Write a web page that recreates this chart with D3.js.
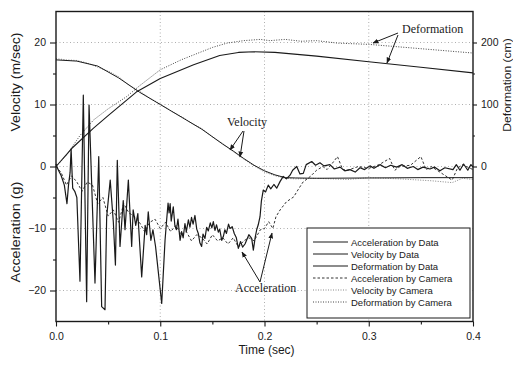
<!DOCTYPE html>
<html><head><meta charset="utf-8">
<script src="https://cdn.jsdelivr.net/npm/d3@7"></script>
<style>body{margin:0;background:#fff}svg{display:block}</style>
</head><body><svg id="c" width="513" height="365"></svg>
<script>
// ---- data (time in sec) ----
const xTicks = [0, 0.1, 0.2, 0.3, 0.4];
const xTickLabels = ["0.0", "0.1", "0.2", "0.3", "0.4"];
const xMinorTicks = [0.05, 0.15, 0.25, 0.35];
const yLeftTicks = [20, 10, 0, -10, -20];
const yLeftMinor = [15, 5, -5, -15];
const yRightTicks = [200, 100, 0];
const yRightMinor = [150, 50];
const gridX = [0.1, 0.2, 0.3];

const seriesNames = ["Acceleration by Data", "Velocity by Data", "Deformation by Data",
  "Acceleration by Camera", "Velocity by Camera", "Deformation by Camera"];

// acceleration (g) measured by data
const accelData = [[0,0.4],[0.002,-0.5],[0.005,-1.5],[0.008,-3],[0.0105,-6],[0.012,-3],[0.0135,-1],[0.0145,2.8],[0.016,-3.5],[0.018,-4],[0.02,-5],[0.023,-18.5],[0.0262,11.5],[0.0294,-21.8],[0.0317,9.9],[0.0374,-18.8],[0.041,1.6],[0.0438,-22.6],[0.047,-23.1],[0.0486,-8.1],[0.052,-2.2],[0.055,-9],[0.057,-15.9],[0.0588,1.0],[0.0614,-12.9],[0.0645,-5.5],[0.0662,-10.2],[0.0694,-2.2],[0.0726,-12.9],[0.074,-7],[0.0765,-9.5],[0.0785,-7.6],[0.0822,-17.8],[0.0855,-9.5],[0.087,-11],[0.0885,-7.3],[0.091,-11.9],[0.093,-10.2],[0.0955,-12.9],[0.1014,-22.1],[0.1046,-11.9],[0.1062,-8.5],[0.1075,-5.9],[0.1085,-7.5],[0.1095,-6.0],[0.1105,-8.8],[0.1125,-6.5],[0.114,-9.5],[0.1155,-10.2],[0.117,-8.5],[0.119,-11.9],[0.1205,-10.5],[0.122,-11.5],[0.1237,-9.2],[0.125,-10.5],[0.127,-8.6],[0.1285,-9.8],[0.13,-8.2],[0.1315,-9.3],[0.1333,-7.9],[0.135,-10.1],[0.1365,-10.8],[0.138,-12.3],[0.1397,-12.9],[0.141,-10.9],[0.1429,-11.6],[0.1445,-9.8],[0.1461,-10.4],[0.148,-9.1],[0.1495,-9.9],[0.1509,-8.9],[0.1525,-10.3],[0.154,-9.4],[0.1557,-10.6],[0.157,-10.1],[0.159,-11.9],[0.1605,-11.3],[0.162,-10.2],[0.1635,-10.8],[0.1655,-9.3],[0.1669,-10.0],[0.169,-9.7],[0.171,-10.8],[0.173,-11.5],[0.1749,-13.2],[0.177,-12.1],[0.179,-13.0],[0.1813,-12.5],[0.183,-11.8],[0.185,-11.0],[0.1877,-11.6],[0.1893,-13.5],[0.191,-11.5],[0.1925,-10.2],[0.194,-9.4],[0.1957,-8.1],[0.197,-5.6],[0.1988,-3.8],[0.201,-4.1],[0.2036,-3.0],[0.206,-3.6],[0.209,-2.9],[0.2117,-3.5],[0.215,-2.4],[0.218,-1.6],[0.221,-2.0],[0.2245,-1.4],[0.227,-0.6],[0.2309,0],[0.234,-1.2],[0.2372,-1.1],[0.24,0.3],[0.2453,0.8],[0.249,0.2],[0.2532,0.6],[0.257,0.1],[0.2628,0.3],[0.267,-0.4],[0.2724,-0.1],[0.277,-0.7],[0.282,-0.5],[0.287,-0.9],[0.2916,-0.2],[0.296,-0.5],[0.3012,0.1],[0.305,-0.3],[0.3108,0.3],[0.316,-0.2],[0.321,0.2],[0.3268,-0.1],[0.332,0.3],[0.337,-0.3],[0.3427,0],[0.347,-0.5],[0.352,-0.1],[0.3587,-0.4],[0.363,-0.1],[0.3683,-0.7],[0.373,-0.2],[0.3808,-0.5],[0.384,0.3],[0.3875,-0.6],[0.391,0.4],[0.395,-0.6],[0.398,0.3],[0.4,-0.1]];

// acceleration (g) measured by camera
const accelCamera = [[0,0],[0.005,-1],[0.01,-3],[0.015,-1.5],[0.02,-2.5],[0.025,-4],[0.03,-2.5],[0.035,-3],[0.04,-6],[0.045,-5],[0.05,-8],[0.055,-7],[0.06,-9],[0.065,-6],[0.07,-7.5],[0.075,-8],[0.08,-9],[0.085,-10.5],[0.09,-9],[0.095,-8.5],[0.1,-10],[0.105,-9],[0.11,-10.5],[0.115,-9.5],[0.12,-11],[0.125,-10.5],[0.13,-12],[0.135,-11],[0.14,-11.5],[0.145,-12.5],[0.15,-11],[0.155,-12],[0.16,-11.5],[0.165,-12.5],[0.17,-11.5],[0.175,-13],[0.18,-12],[0.185,-11.5],[0.19,-12],[0.196,-10.2],[0.2,-10],[0.204,-8.9],[0.208,-10],[0.211,-8.1],[0.215,-7],[0.221,-5.7],[0.228,-4.9],[0.232,-3.8],[0.237,-2.5],[0.244,-1.6],[0.25,-0.6],[0.256,0],[0.26,-0.5],[0.265,0.5],[0.27,1.6],[0.275,-0.5],[0.28,-0.6],[0.29,0],[0.3,-0.3],[0.31,0.3],[0.32,1.3],[0.325,-0.6],[0.33,0],[0.34,0.2],[0.35,1.6],[0.355,-0.5],[0.36,0],[0.37,-1.1],[0.38,-2.2],[0.385,-0.3],[0.39,0.3],[0.4,-0.5]];

// velocity (m/sec)
const velData = [[0,17.2],[0.02,17.0],[0.04,16.2],[0.06,14.3],[0.08,12.0],[0.1,10.0],[0.12,8.0],[0.14,6.0],[0.16,3.6],[0.17,2.5],[0.18,1.3],[0.19,0.2],[0.2,-0.7],[0.21,-1.35],[0.22,-1.8],[0.23,-1.85],[0.25,-1.9],[0.3,-1.85],[0.35,-1.8],[0.4,-1.8]];
const velCamera = [[0,17.4],[0.01,17.2],[0.02,17.1],[0.03,16.7],[0.04,16.0],[0.05,15.4],[0.06,14.5],[0.07,13.1],[0.08,12.2],[0.09,11.0],[0.1,10.1],[0.11,9.0],[0.12,8.1],[0.13,7.0],[0.14,6.1],[0.15,4.8],[0.16,3.7],[0.17,2.4],[0.18,1.2],[0.19,0.1],[0.2,-0.9],[0.21,-1.5],[0.22,-1.9],[0.23,-2.0],[0.25,-1.9],[0.28,-2.1],[0.3,-1.8],[0.33,-2.0],[0.36,-2.3],[0.38,-2.6],[0.39,-1.9],[0.4,-2.1]];

// deformation (cm)
const defData = [[0,0],[0.015,29],[0.036,62],[0.05,82],[0.077,120],[0.1,142],[0.132,164],[0.157,179],[0.175,184],[0.19,185],[0.21,184],[0.25,178],[0.3,169],[0.35,160],[0.4,151]];
const defCamera = [[0,0],[0.01,18],[0.023,50],[0.036,75],[0.05,93],[0.068,113],[0.08,130],[0.1,156],[0.12,172],[0.132,180],[0.15,192],[0.164,199],[0.18,203],[0.196,205],[0.205,203],[0.22,205],[0.235,202],[0.25,203],[0.27,199],[0.3,197],[0.35,190],[0.4,183]];

// ---- layout ----
const svg = d3.select("#c");
const L = 56, R = 473, T = 11.5, B = 321.5;
const x = d3.scaleLinear().domain([0, 0.4]).range([L, R]);
const yL = d3.scaleLinear().domain([-25, 25]).range([B, T]);
const yR = d3.scaleLinear().domain([-250, 250]).range([B, T]);
const ink = "#1a1a1a";
const font = "'Liberation Sans', Arial, sans-serif";
const serif = "'Liberation Serif', 'Times New Roman', serif";

// grid
const grid = svg.append("g").attr("stroke", "#9a9a9a").attr("stroke-width", 0.8).attr("stroke-dasharray", "1,2.5");
grid.selectAll("line.h").data(yLeftTicks).join("line").attr("class","h")
  .attr("x1", L).attr("x2", R).attr("y1", d => yL(d)).attr("y2", d => yL(d));
grid.selectAll("line.v").data(gridX).join("line").attr("class","v")
  .attr("x1", d => x(d)).attr("x2", d => x(d)).attr("y1", T).attr("y2", B);

// series
const styles = {
  accelData:  {data: accelData,  y: yL, stroke: ink, w: 1.2, dash: null},
  velData:    {data: velData,    y: yL, stroke: ink, w: 1.0, dash: null},
  defData:    {data: defData,    y: yR, stroke: ink, w: 1.1, dash: null},
  accelCamera:{data: accelCamera,y: yL, stroke: "#333", w: 1.0, dash: "2.5,2"},
  velCamera:  {data: velCamera,  y: yL, stroke: "#888", w: 1.0, dash: "1,1.5"},
  defCamera:  {data: defCamera,  y: yR, stroke: "#444", w: 1.0, dash: "1,1.5"}
};
const order = ["velCamera","defCamera","accelCamera","defData","velData","accelData"];
order.forEach(k => {
  const s = styles[k];
  const line = d3.line().x(d => x(d[0])).y(d => s.y(d[1]));
  svg.append("path").datum(s.data).attr("d", line).attr("fill", "none")
    .attr("stroke", s.stroke).attr("stroke-width", s.w)
    .attr("stroke-dasharray", s.dash).attr("stroke-linejoin", "round");
});

// axes
function styleAxis(g) {
  g.selectAll("path").remove();
  g.selectAll("line").attr("stroke", ink).attr("stroke-width", 1.1);
  g.selectAll("text").attr("fill", ink).style("font-family", font).style("font-size", "10.5px");
}
svg.append("g").attr("transform", `translate(0,${B})`)
  .call(d3.axisBottom(x).tickValues(xTicks).tickFormat((d, i) => xTickLabels[i]).tickSize(5).tickPadding(6))
  .call(styleAxis);
svg.append("g").attr("transform", `translate(0,${B})`)
  .call(d3.axisBottom(x).tickValues(xMinorTicks).tickFormat("").tickSize(3)).call(styleAxis);
svg.append("g").attr("transform", `translate(${L},0)`)
  .call(d3.axisLeft(yL).tickValues(yLeftTicks).tickSize(6).tickPadding(4)).call(styleAxis);
svg.append("g").attr("transform", `translate(${L},0)`)
  .call(d3.axisLeft(yL).tickValues(yLeftMinor).tickFormat("").tickSize(3)).call(styleAxis);
svg.append("g").attr("transform", `translate(${R},0)`)
  .call(d3.axisRight(yR).tickValues(yRightTicks).tickSize(4).tickPadding(4)).call(styleAxis);
svg.append("g").attr("transform", `translate(${R},0)`)
  .call(d3.axisRight(yR).tickValues(yRightMinor).tickFormat("").tickSize(2)).call(styleAxis);

// frame
svg.append("rect").attr("x", L).attr("y", T).attr("width", R - L).attr("height", B - T)
  .attr("fill", "none").attr("stroke", ink).attr("stroke-width", 1.4);

// axis titles
svg.append("text").attr("x", (L + R) / 2 + 2).attr("y", 354).attr("text-anchor", "middle")
  .style("font-family", font).style("font-size", "12px").attr("fill", ink).text("Time (sec)");
svg.append("text").attr("transform", "translate(20,82) rotate(-90) scale(1.17,1)").attr("text-anchor", "middle")
  .style("font-family", font).style("font-size", "12px").attr("fill", ink).text("Velocity (m/sec)");
svg.append("text").attr("transform", "translate(20,232) rotate(-90) scale(1.2,1)").attr("text-anchor", "middle")
  .style("font-family", font).style("font-size", "12px").attr("fill", ink).text("Acceleration (g)");
svg.append("text").attr("transform", "translate(511,85) rotate(-90) scale(1.1,1)").attr("text-anchor", "middle")
  .style("font-family", font).style("font-size", "11px").attr("fill", ink).text("Deformation (cm)");

// annotations
svg.append("defs").append("marker").attr("id", "ah").attr("viewBox", "0 0 10 10")
  .attr("refX", 9).attr("refY", 5).attr("markerWidth", 6).attr("markerHeight", 6)
  .attr("orient", "auto").append("path").attr("d", "M0,1 L10,5 L0,9 z").attr("fill", ink);
const annos = [
  {text: "Deformation", tx: 402, ty: 33, arrows: [[398,33,373,43],[398,35,387,63]]},
  {text: "Velocity", tx: 227, ty: 126, arrows: [[243,131,230,150],[244,131,240,157]]},
  {text: "Acceleration", tx: 235, ty: 292, arrows: [[260,282,242,252],[260,282,272,233]]}
];
annos.forEach(a => {
  a.arrows.forEach(r => svg.append("line").attr("x1", r[0]).attr("y1", r[1]).attr("x2", r[2]).attr("y2", r[3])
    .attr("stroke", ink).attr("stroke-width", 1).attr("marker-end", "url(#ah)"));
  svg.append("text").attr("x", a.tx).attr("y", a.ty).style("font-family", serif).style("font-size", "12px")
    .attr("fill", ink).text(a.text);
});

// legend
const lg = svg.append("g");
lg.append("rect").attr("x", 307).attr("y", 228).attr("width", 163).attr("height", 90)
  .attr("fill", "#fff").attr("stroke", ink).attr("stroke-width", 1);
const legendKeys = ["accelData","velData","defData","accelCamera","velCamera","defCamera"];
legendKeys.forEach((k, i) => {
  const s = styles[k];
  const yy = 242 + i * 12;
  lg.append("line").attr("x1", 313).attr("x2", 348).attr("y1", yy).attr("y2", yy)
    .attr("stroke", s.stroke).attr("stroke-width", s.w).attr("stroke-dasharray", s.dash);
  lg.append("text").attr("x", 351).attr("y", yy + 3.5).style("font-family", font).style("font-size", "9.5px")
    .attr("fill", ink).text(seriesNames[i]);
});
</script>
</body></html>
